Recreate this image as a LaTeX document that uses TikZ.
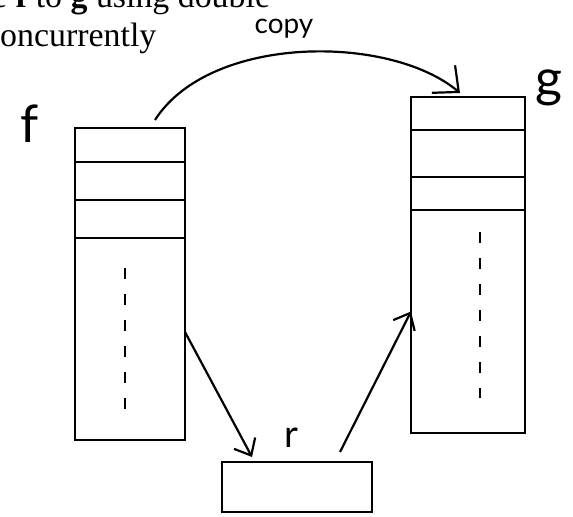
\documentclass[tikz,border=0pt]{standalone}
\usepackage{fontspec}
\setmainfont{Liberation Serif}
\newfontfamily\handfont{Lato}
\usetikzlibrary{arrows.meta}
\begin{document}
\begin{tikzpicture}[x=1bp,y=-1bp,
  cell/.style={draw,line width=2.4bp,minimum width=#1,inner sep=0pt,outer sep=0pt},
  dots/.style={line width=2bp,dash pattern=on 11bp off 15bp},
  conn/.style={line width=2.2bp,-{Straight Barb[length=14bp,width=24bp,line width=2.2bp]}},
  bigconn/.style={line width=2.2bp,-{Straight Barb[length=20bp,width=36bp,line width=2.2bp]}},
  hand/.style={font=\handfont\fontsize{#1}{#1}\selectfont,inner sep=0pt},
  body/.style={font=\fontsize{34}{34}\selectfont,inner sep=0pt,anchor=base west}]
\useasboundingbox (0,0) rectangle (573,517);
\clip (0,0) rectangle (573,517);
\fill[white] (0,0) rectangle (573,517);
% header text
\node[body] (t1) at (-8,8) {e \textbf{f} to \textbf{g} using double};
\node[body] (t2) at (0,47) {oncurrently};
% f column
\node[cell=110bp,minimum height=34bp] (f1) at (130,145) {};
\node[cell=110bp,minimum height=38bp] (f2) at (130,181) {};
\node[cell=110bp,minimum height=38bp] (f3) at (130,219) {};
\node[cell=110bp,minimum height=202bp] (f4) at (130,339) {};
\draw[dots] ([xshift=-5bp,yshift=-30bp]f4.north) -- ([xshift=-5bp,yshift=30bp]f4.south);
% g column
\node[cell=114bp,minimum height=33bp] (g1) at (468,113.5) {};
\node[cell=114bp,minimum height=47bp] (g2) at (468,153.5) {};
\node[cell=114bp,minimum height=33bp] (g3) at (468,193.5) {};
\node[cell=114bp,minimum height=223bp] (g4) at (468,321.5) {};
\draw[dots] ([xshift=12bp,yshift=-22bp]g4.north) -- ([xshift=12bp,yshift=35bp]g4.south);
% r buffer
\node[cell=150bp,minimum height=50bp] (r) at (297,487) {};
% labels
\node[hand=52] (lf) at (30,124) {f};
\node[hand=52] (lg) at (549,88) {g};
\node[hand=38] (lr) at (291,438) {r};
\node[hand=28] (lc) at (284,29) {copy};
% connectors
\draw[bigconn] ([xshift=-30bp,yshift=8bp]f1.north east) .. controls (210,34) and (390,34) .. ([xshift=-8bp,yshift=4bp]g1.north);
\draw[conn] ([yshift=7bp]f4.east) -- ([xshift=30bp,yshift=5bp]r.north west);
\draw[conn] ([xshift=-32bp,yshift=10bp]r.north east) -- ([yshift=10bp]g4.west);
\end{tikzpicture}
\end{document}
